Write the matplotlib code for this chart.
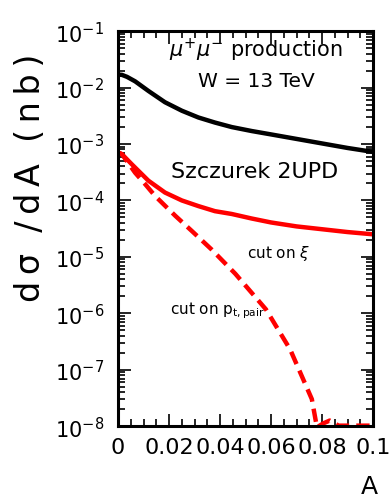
import numpy as np
import matplotlib
matplotlib.use("Agg")
import matplotlib.pyplot as plt
from matplotlib.ticker import MultipleLocator, LogLocator, NullFormatter

plt.rcParams['font.family'] = ['DejaVu Sans']
plt.rcParams['mathtext.fontset'] = 'dejavusans'

# values (log10 of dsigma/dA in nb)
a_black = [0.0, 0.0015, 0.0035, 0.0067, 0.0119, 0.0184, 0.025, 0.0315, 0.038, 0.0446, 0.0524,
           0.06, 0.07, 0.08, 0.09, 0.1]
log_black = [-1.77, -1.775, -1.81, -1.89, -2.06, -2.26, -2.41, -2.53, -2.62, -2.70, -2.77,
             -2.83, -2.91, -2.99, -3.07, -3.14]

a_solid = [0.0, 0.0015, 0.0054, 0.0119, 0.0184, 0.025, 0.0315, 0.038, 0.0446, 0.0524,
           0.06, 0.07, 0.08, 0.09, 0.1]
log_solid = [-3.15, -3.18, -3.36, -3.65, -3.86, -4.0, -4.10, -4.19, -4.24, -4.32,
             -4.39, -4.46, -4.51, -4.56, -4.60]

a_dash = [0.0, 0.0015, 0.0067, 0.0106, 0.0145, 0.0224, 0.0289, 0.0367, 0.046, 0.058,
          0.0675, 0.076, 0.078, 0.0805, 0.083, 0.0865, 0.1]
log_dash = [-3.15, -3.18, -3.51, -3.71, -3.92, -4.27, -4.54, -4.87, -5.3, -5.93,
            -6.64, -7.52, -8.02, -7.95, -7.9, -7.99, -7.99]

xticks = [0, 0.02, 0.04, 0.06, 0.08, 0.1]
xticklabels = ["0", "0.02", "0.04", "0.06", "0.08", "0.1"]


def spaced(s):
    # a little extra letter spacing, like the wide font of the original
    return "  ".join("\u2009".join(w) for w in s.split(" "))


def main():
    fig = plt.figure(figsize=(3.91, 5.02), dpi=100)
    ax = fig.add_axes([0.302, 0.149, 0.652, 0.787])

    ax.plot(a_black, 10 ** np.array(log_black), color="black", lw=3.2, solid_capstyle="butt")
    ax.plot(a_solid, 10 ** np.array(log_solid), color="red", lw=3.2, solid_capstyle="butt")
    ax.plot(a_dash, 10 ** np.array(log_dash), color="red", lw=3.2, ls=(0, (3.0, 1.6)),
            dash_capstyle="butt")

    ax.set_yscale("log")
    ax.set_xlim(0, 0.1)
    ax.set_ylim(1e-8, 1e-1)

    ax.set_xticks(xticks)
    ax.set_xticklabels(xticklabels)
    ax.xaxis.set_minor_locator(MultipleLocator(0.005))
    ax.yaxis.set_major_locator(LogLocator(base=10, numticks=20))
    ax.yaxis.set_minor_locator(LogLocator(base=10, subs=np.arange(2, 10), numticks=20))
    ax.yaxis.set_minor_formatter(NullFormatter())

    ax.tick_params(which="both", direction="in", top=True, right=True, width=1.2)
    ax.tick_params(which="major", length=9, labelsize=15, pad=10)
    ax.tick_params(which="minor", length=5)
    ax.tick_params(axis="x", which="major", labelsize=16, pad=8)
    for s in ax.spines.values():
        s.set_linewidth(2.2)

    ax.set_ylabel(spaced("dσ /dA (nb)"), fontsize=24)
    ax.yaxis.set_label_coords(-0.28, 0.63)
    ax.set_xlabel("A", fontsize=18)
    ax.xaxis.set_label_coords(0.985, -0.122)

    ax.text(0.541, 0.954, r"$\mu^{+}\mu^{-}$ production", transform=ax.transAxes,
            ha="center", va="center", fontsize=15)
    ax.text(0.541, 0.874, "W = 13 TeV", transform=ax.transAxes,
            ha="center", va="center", fontsize=14.5)
    ax.text(0.535, 0.646, "Szczurek 2UPD", transform=ax.transAxes,
            ha="center", va="center", fontsize=16)
    ax.text(0.505, 0.44, r"cut on $\xi$", transform=ax.transAxes,
            ha="left", va="center", fontsize=11)
    ax.text(0.204, 0.294, r"cut on p$_{\rm t,pair}$", transform=ax.transAxes,
            ha="left", va="center", fontsize=11)

    fig.savefig("out.png", dpi=100)


if __name__ == "__main__":
    main()
